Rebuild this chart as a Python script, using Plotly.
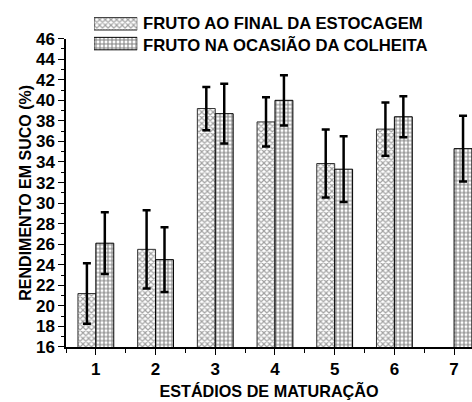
import plotly.graph_objects as go

# Juice yield (%) per maturation stage, two fruit conditions
estadios = [1, 2, 3, 4, 5, 6, 7]
final_estocagem = [21.2, 25.5, 39.2, 37.9, 33.85, 37.2, None]
final_estocagem_dp = [2.95, 3.8, 2.1, 2.4, 3.3, 2.6, None]
ocasiao_colheita = [26.1, 24.5, 38.7, 40.0, 33.3, 38.4, 35.3]
ocasiao_colheita_dp = [3.0, 3.15, 2.9, 2.45, 3.2, 2.0, 3.2]

legenda = ["FRUTO AO FINAL DA ESTOCAGEM", "FRUTO NA OCASIÃO DA COLHEITA"]
y_ticks = list(range(16, 47, 2))

FONT = "Liberation Sans, Arial, sans-serif"
A_FG, B_FG = "#444444", "black"
pat_a = dict(shape="x", fgcolor=A_FG, bgcolor="white", size=4, solidity=0.5)
pat_b = dict(shape="+", fgcolor=B_FG, bgcolor="white", size=4, solidity=0.45)
err = dict(type="data", color="black", thickness=2.5, width=4, visible=True)

def bold(s):
    return "<b>" + str(s) + "</b>"

fig = go.Figure()
fig.add_trace(go.Bar(
    x=estadios, y=final_estocagem, name=legenda[0],
    marker=dict(color="white", pattern=pat_a, line=dict(color="#333333", width=1)),
    error_y=dict(array=final_estocagem_dp, **err), showlegend=False,
))
fig.add_trace(go.Bar(
    x=estadios, y=ocasiao_colheita, name=legenda[1],
    marker=dict(color="white", pattern=pat_b, line=dict(color="black", width=1)),
    error_y=dict(array=ocasiao_colheita_dp, **err), showlegend=False,
))

# legend swatches drawn as a small patterned bar trace on its own axes
fig.add_trace(go.Bar(
    x=[1, 1], y=[0, 1], orientation="h", width=[0.63, 0.63],
    marker=dict(
        color="white",
        pattern=dict(shape=["x", "+"], fgcolor=[A_FG, B_FG], bgcolor="white",
                     size=4, solidity=[0.5, 0.45]),
        line=dict(color=["#333333", "black"], width=1),
    ),
    xaxis="x2", yaxis="y2", showlegend=False, hoverinfo="skip",
))

H_TOP, H_BOT = 5, 347
PH = H_BOT - H_TOP
L, PW = 66, 472 - 66

def py(px):
    return (H_BOT - px) / PH

def pxx(px):
    return (px - L) / PW

for i, txt in enumerate(legenda):
    fig.add_annotation(
        text=bold(txt), xref="paper", yref="paper", x=pxx(141), y=py(20 + 21 * i),
        xanchor="left", yanchor="middle", showarrow=False,
        font=dict(family=FONT, size=16.7, color="black"),
    )

fig.update_layout(
    width=472, height=402,
    margin=dict(l=L, r=0, t=H_TOP, b=402 - H_BOT, pad=0),
    paper_bgcolor="white", plot_bgcolor="white",
    barmode="group", bargap=0.4, bargroupgap=0,
    font=dict(family=FONT, color="black"),
    xaxis=dict(
        range=[0.5, 7.3], tickvals=estadios, ticktext=[bold(v) for v in estadios],
        showgrid=False, zeroline=False,
        showline=True, linecolor="black", linewidth=1.5,
        ticks="outside", ticklen=6, tickwidth=1.2, tickcolor="black",
        minor=dict(dtick=0.5, tick0=0.5, ticks="outside", ticklen=4, tickcolor="black", tickwidth=1),
        tickfont=dict(family=FONT, size=17),
        title=dict(text=bold("ESTÁDIOS DE MATURAÇÃO"), standoff=8,
                   font=dict(family=FONT, size=16.2)),
    ),
    yaxis=dict(
        domain=[0, py(35)], range=[16, 46], tickvals=y_ticks,
        ticktext=[bold(v) for v in y_ticks],
        showgrid=False, zeroline=False,
        showline=True, linecolor="black", linewidth=1.5,
        ticks="outside", ticklen=6, tickwidth=1.2, tickcolor="black",
        minor=dict(dtick=1, ticks="outside", ticklen=3, tickcolor="black", tickwidth=1),
        tickfont=dict(family=FONT, size=17),
        title=dict(text=bold("RENDIMENTO EM SUCO (%)"), standoff=0,
                   font=dict(family=FONT, size=16)),
    ),
    xaxis2=dict(domain=[pxx(94), pxx(137.3)], range=[0, 1], anchor="y2",
                visible=False, fixedrange=True),
    yaxis2=dict(domain=[py(50), py(10)], range=[1.5, -0.5], anchor="x2",
                visible=False, fixedrange=True),
)

fig.write_html("out.html")
